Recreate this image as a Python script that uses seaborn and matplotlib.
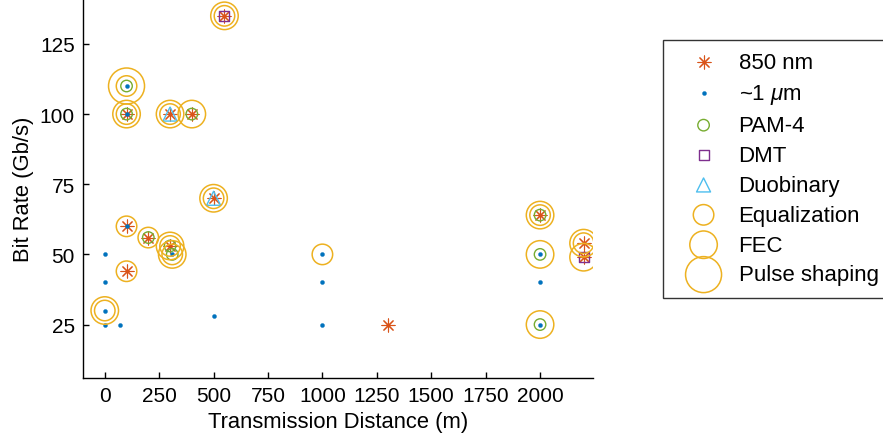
import matplotlib
matplotlib.use("Agg")
import matplotlib.pyplot as plt
import seaborn as sns
import numpy as np

# ---- data ----
wl850_x = [550, 100, 300, 400, 100, 200, 300, 100, 500, 1300, 2000, 2200, 2200]
wl850_y = [135, 100, 100, 100, 60, 56, 53, 44, 70, 25, 64, 54, 49]

wl1um_x = [100, 100, 100, 310, 0, 0, 0, 0, 70, 500, 1000, 1000, 1000, 2000, 2000, 2000]
wl1um_y = [110, 100, 60, 50, 50, 40, 30, 25, 25, 28, 50, 40, 25, 50, 40, 25]

pam4_x = [100, 100, 400, 200, 300, 310, 2000, 2000, 2000]
pam4_y = [110, 100, 100, 56, 53, 50, 64, 50, 25]

dmt_x = [550, 2200]
dmt_y = [135, 49]

duo_x = [300, 500]
duo_y = [100, 70]

eq_x = [550, 100, 100, 300, 100, 200, 300, 310, 100, 500, 0, 1000, 2000, 2200]
eq_y = [135, 110, 100, 100, 60, 56, 53, 50, 44, 70, 30, 50, 64, 54]

fec_x = [550, 100, 300, 400, 300, 310, 500, 0, 2000, 2000, 2000, 2200, 2200]
fec_y = [135, 100, 100, 100, 53, 50, 70, 30, 64, 50, 25, 54, 49]

ps_x = [100]
ps_y = [110]

x_ticks = [0, 250, 500, 750, 1000, 1250, 1500, 1750, 2000]
y_ticks = [25, 50, 75, 100, 125]

labels = ["850 nm", "~1 $\\mu$m", "PAM-4", "DMT", "Duobinary",
          "Equalization", "FEC", "Pulse shaping"]

# ---- style ----
sns.set_style("white")
plt.rcParams["font.family"] = ["Liberation Sans", "DejaVu Sans"]
plt.rcParams["mathtext.fontset"] = "custom"
plt.rcParams["mathtext.it"] = "Liberation Sans:italic"
plt.rcParams["mathtext.rm"] = "Liberation Sans"
plt.rcParams["text.color"] = "black"
plt.rcParams["axes.labelcolor"] = "black"
plt.rcParams["xtick.color"] = "black"
plt.rcParams["ytick.color"] = "black"

C_ORANGE = "#D95319"
C_BLUE = "#0072BD"
C_GREEN = "#77AC30"
C_PURPLE = "#7E2F8E"
C_CYAN = "#4DBEEE"
C_YELLOW = "#EDB120"

fig = plt.figure(figsize=(8.83, 4.35), dpi=100)
ax = fig.add_axes([0.094, 0.129, 0.578, 0.871])

def pts(d_px):
    return (d_px * 72 / 100.0) ** 2

sns.scatterplot(x=wl850_x, y=wl850_y, ax=ax, marker=(8, 2, 0), s=pts(13),
                color=C_ORANGE, linewidth=0.8, label=labels[0])
sns.scatterplot(x=wl1um_x, y=wl1um_y, ax=ax, marker="o", s=pts(4),
                color=C_BLUE, edgecolor=C_BLUE, linewidth=0.3, label=labels[1])
sns.scatterplot(x=pam4_x, y=pam4_y, ax=ax, marker="o", s=pts(11.5),
                facecolor="none", edgecolor=C_GREEN, linewidth=1.0, label=labels[2])
sns.scatterplot(x=dmt_x, y=dmt_y, ax=ax, marker="s", s=pts(10),
                facecolor="none", edgecolor=C_PURPLE, linewidth=1.0, label=labels[3])
sns.scatterplot(x=duo_x, y=duo_y, ax=ax, marker="^", s=pts(14),
                facecolor="none", edgecolor=C_CYAN, linewidth=1.0, label=labels[4])
sns.scatterplot(x=eq_x, y=eq_y, ax=ax, marker="o", s=pts(20.5),
                facecolor="none", edgecolor=C_YELLOW, linewidth=1.1, label=labels[5])
sns.scatterplot(x=fec_x, y=fec_y, ax=ax, marker="o", s=pts(27.5),
                facecolor="none", edgecolor=C_YELLOW, linewidth=1.1, label=labels[6])
sns.scatterplot(x=ps_x, y=ps_y, ax=ax, marker="o", s=pts(36),
                facecolor="none", edgecolor=C_YELLOW, linewidth=1.1, label=labels[7])

ax.set_xlim(-100, 2245)
ax.set_ylim(6, 141)
ax.set_xticks(x_ticks)
ax.set_yticks(y_ticks)
ax.set_xticklabels([str(v) for v in x_ticks])
ax.set_yticklabels([str(v) for v in y_ticks])
ax.tick_params(direction="in", length=4, width=1, labelsize=15, colors="black",
               bottom=True, left=True, pad=6)
for side in ["top", "right"]:
    ax.spines[side].set_visible(False)
for side in ["left", "bottom"]:
    ax.spines[side].set_color("black")
    ax.spines[side].set_linewidth(1.0)
ax.set_xlabel("Transmission Distance (m)", fontsize=15.8, labelpad=4, color="black")
ax.set_ylabel("Bit Rate (Gb/s)", fontsize=15.8, labelpad=4, color="black")

leg = ax.legend(loc="upper left", bbox_to_anchor=(663 / 883, 1 - 41 / 435),
                bbox_transform=fig.transFigure, frameon=True, fancybox=False,
                fontsize=16, scatterpoints=1, borderpad=0.55,
                labelspacing=0.4, handletextpad=0.3, borderaxespad=0,
                handlelength=2.55)
leg.get_frame().set_edgecolor("black")
leg.get_frame().set_linewidth(1.0)
for t in leg.get_texts():
    t.set_color("black")

fig.savefig("out.png", dpi=100)
